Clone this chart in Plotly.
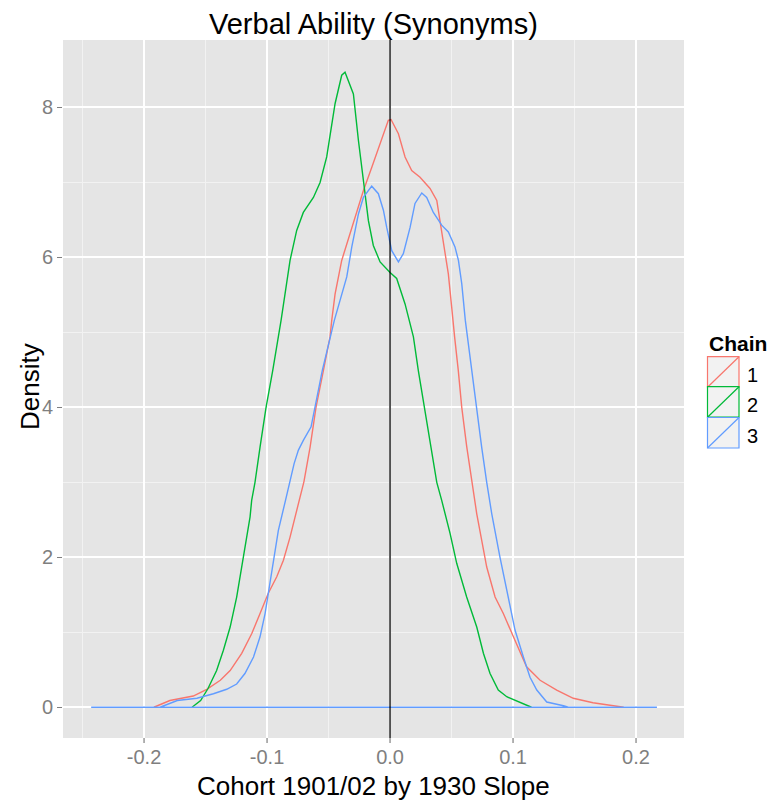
import plotly.graph_objects as go

# ---------------- data ----------------
chain_names = ["1", "2", "3"]
chain_colors = ["#F8766D", "#00BA38", "#619CFF"]

chain1_x = [-0.192, -0.179, -0.160, -0.149, -0.138, -0.130, -0.1206, -0.1125, -0.1057, -0.099,
            -0.0921, -0.0867, -0.0813, -0.0759, -0.0740, -0.0700, -0.0650, -0.0602, -0.0542, -0.0488,
            -0.0474, -0.0447, -0.0393, -0.0352, -0.0285, -0.0217, -0.0149, -0.0081, -0.0014, 0.0008,
            0.0068, 0.0122, 0.0176, 0.0244, 0.0325, 0.0380, 0.0407, 0.0434, 0.0474, 0.0501,
            0.0510, 0.0525, 0.0555, 0.0583, 0.0624, 0.0664, 0.0705, 0.0745, 0.0786, 0.0854,
            0.0921, 0.1003, 0.1110, 0.1220, 0.1355, 0.1490, 0.1650, 0.1900]
chain1_y = [0.0, 0.09, 0.15, 0.24, 0.36, 0.49, 0.72, 0.98, 1.25, 1.52,
            1.74, 1.96, 2.27, 2.62, 2.74, 3.01, 3.47, 4.00, 4.49, 4.94,
            5.16, 5.51, 5.96, 6.18, 6.54, 6.89, 7.20, 7.52, 7.83, 7.84,
            7.65, 7.34, 7.16, 7.07, 6.92, 6.76, 6.49, 6.23, 5.78, 5.34,
            5.16, 4.94, 4.49, 4.00, 3.47, 3.00, 2.58, 2.23, 1.87, 1.47,
            1.25, 0.94, 0.54, 0.36, 0.23, 0.12, 0.06, 0.0]

chain2_x = [-0.161, -0.154, -0.148, -0.141, -0.1355, -0.130, -0.1247, -0.1193, -0.1138, -0.1125,
            -0.1098, -0.1057, -0.1008, -0.0954, -0.0886, -0.0813, -0.0759, -0.0705, -0.0623, -0.0569,
            -0.0515, -0.0447, -0.0393, -0.0366, -0.0298, -0.0257, -0.0217, -0.0176, -0.0136, -0.0081,
            0.0000, 0.0054, 0.0122, 0.0157, 0.0190, 0.0230, 0.0279, 0.0331, 0.0380, 0.0420,
            0.0488, 0.0542, 0.0623, 0.0705, 0.0759, 0.0813, 0.0880, 0.0949, 0.1057, 0.1150]
chain2_y = [0.0, 0.09, 0.25, 0.49, 0.76, 1.07, 1.47, 2.00, 2.54, 2.76,
            3.00, 3.47, 4.00, 4.49, 5.16, 5.96, 6.36, 6.60, 6.80, 7.00,
            7.34, 8.05, 8.43, 8.47, 8.18, 7.56, 7.03, 6.49, 6.16, 5.94,
            5.80, 5.72, 5.38, 5.16, 4.94, 4.49, 4.00, 3.47, 3.00, 2.76,
            2.32, 1.92, 1.47, 1.07, 0.72, 0.45, 0.23, 0.14, 0.07, 0.0]

chain3_x = [-0.243, -0.187, -0.173, -0.157, -0.1436, -0.1328, -0.1247, -0.118, -0.111, -0.1057,
            -0.1016, -0.099, -0.0949, -0.0908, -0.0850, -0.0813, -0.0780, -0.0745, -0.0705, -0.0642,
            -0.0610, -0.0551, -0.0453, -0.0420, -0.0352, -0.0311, -0.0257, -0.0217, -0.0149, -0.0095,
            -0.0054, -0.0027, 0.0014, 0.0068, 0.0108, 0.0163, 0.0203, 0.0258, 0.0298, 0.0352,
            0.0420, 0.0474, 0.0528, 0.0556, 0.0583, 0.0612, 0.0664, 0.0699, 0.0745, 0.0786,
            0.0827, 0.0894, 0.0962, 0.1016, 0.1084, 0.1138, 0.1193, 0.1274, 0.1410, 0.1450,
            0.2170]
chain3_y = [0.0, 0.0, 0.09, 0.12, 0.18, 0.24, 0.31, 0.45, 0.67, 0.94,
            1.25, 1.52, 1.92, 2.36, 2.76, 3.00, 3.25, 3.43, 3.56, 3.74,
            4.00, 4.49, 5.16, 5.34, 5.74, 6.14, 6.58, 6.80, 6.95, 6.85,
            6.63, 6.40, 6.09, 5.94, 6.05, 6.40, 6.72, 6.86, 6.80, 6.60,
            6.43, 6.34, 6.14, 5.96, 5.65, 5.16, 4.49, 4.00, 3.47, 3.00,
            2.58, 2.00, 1.47, 1.03, 0.67, 0.40, 0.23, 0.07, 0.02, 0.0,
            0.0]

x_tickvals = [-0.2, -0.1, 0.0, 0.1, 0.2]
x_ticktext = ["-0.2", "-0.1", "0.0", "0.1", "0.2"]
x_minorvals = [-0.25, -0.15, -0.05, 0.05, 0.15]
y_tickvals = [0, 2, 4, 6, 8]
y_minorvals = [1, 3, 5, 7]
vline_x = 0.0

title_text = "Verbal Ability (Synonyms)"
x_title = "Cohort 1901/02 by 1930 Slope"
y_title = "Density"
legend_title = "Chain"

# ---------------- layout helpers ----------------
W, H = 774, 803
L, R, T, B = 63, 90, 40, 65
PW, PH = W - L - R, H - T - B
FONT = "Liberation Sans, Arial, sans-serif"
TICK_GREY = "#7F7F7F"


def pxx(x):
    return (x - L) / PW


def pxy(y):
    return (H - B - y) / PH


fig = go.Figure()
series = list(zip([chain1_x, chain2_x, chain3_x],
                  [chain1_y, chain2_y, chain3_y],
                  chain_colors, chain_names))
for i, (xs, ys, col, nm) in enumerate(series):
    last = i == len(series) - 1
    # the last chain's outline is closed along the baseline (it covers the others')
    px_ = xs + [xs[0]] if last else xs
    py_ = ys + [ys[0]] if last else ys
    fig.add_trace(go.Scatter(
        x=px_, y=py_, mode="lines",
        line=dict(color=col, width=1.4), name=nm,
        showlegend=False, hoverinfo="skip"))

fig.add_shape(type="line", xref="x", yref="y domain", x0=vline_x, x1=vline_x,
              y0=0, y1=1, line=dict(color="black", width=1.3))

# x-axis tick marks (drawn as short marks below the panel)
for v in x_tickvals:
    fig.add_shape(type="line", xref="x", yref="paper", x0=v, x1=v,
                  y0=0, y1=-5 / PH, line=dict(color=TICK_GREY, width=1.2))

# manual ggplot-like legend
annotations = []
box_tops = [356.7, 386.7, 417.5]
box_h = 30.5
bx0, bx1 = 707.5, 739
for top, col, nm in zip(box_tops, chain_colors, chain_names):
    fig.add_shape(type="rect", xref="paper", yref="paper",
                  x0=pxx(bx0), x1=pxx(bx1), y0=pxy(top + box_h), y1=pxy(top),
                  fillcolor="#F2F2F2", line=dict(color=col, width=1.2), layer="above")
    fig.add_shape(type="line", xref="paper", yref="paper",
                  x0=pxx(bx0), x1=pxx(bx1), y0=pxy(top + box_h), y1=pxy(top),
                  line=dict(color=col, width=1.2), layer="above")
    annotations.append(dict(text=nm, xref="paper", yref="paper", x=pxx(745),
                            y=pxy(top + box_h / 2 + 3), xanchor="left", yanchor="middle",
                            showarrow=False, font=dict(family=FONT, size=20, color="black")))

annotations.append(dict(text="<b>" + legend_title + "</b>", xref="paper", yref="paper",
                        x=pxx(707), y=pxy(343), xanchor="left", yanchor="middle",
                        showarrow=False, font=dict(family=FONT, size=21, color="black")))
annotations.append(dict(text=title_text, xref="paper", yref="paper", x=pxx(373.5), y=pxy(24),
                        xanchor="center", yanchor="middle", showarrow=False,
                        font=dict(family=FONT, size=29, color="black")))
annotations.append(dict(text=x_title, xref="paper", yref="paper", x=pxx(373.5), y=pxy(786),
                        xanchor="center", yanchor="middle", showarrow=False,
                        font=dict(family=FONT, size=26, color="black")))
annotations.append(dict(text=y_title, xref="paper", yref="paper", x=pxx(30), y=pxy(387),
                        xanchor="center", yanchor="middle", showarrow=False, textangle=-90,
                        font=dict(family=FONT, size=26, color="black")))

axis_common = dict(
    showline=False, zeroline=False, tickwidth=1.2,
    tickcolor=TICK_GREY, gridcolor="#FFFFFF", gridwidth=1.6,
    tickfont=dict(family=FONT, size=20, color=TICK_GREY),
)

fig.update_layout(
    width=W, height=H,
    margin=dict(l=L, r=R, t=T, b=B, pad=0),
    paper_bgcolor="white", plot_bgcolor="#E5E5E5",
    showlegend=False,
    annotations=annotations,
    xaxis=dict(range=[-0.2659, 0.239], tickmode="array", tickvals=x_tickvals,
               ticktext=x_ticktext, ticks="", ticklen=0, ticklabelstandoff=5,
               minor=dict(tickmode="array", tickvals=x_minorvals, showgrid=True,
                          gridcolor="#F2F2F2", gridwidth=0.8, ticks=""),
               **axis_common),
    yaxis=dict(range=[-0.41, 8.9], tickmode="array", tickvals=y_tickvals,
               ticktext=[str(v) for v in y_tickvals], ticks="outside", ticklen=5,
               minor=dict(tickmode="array", tickvals=y_minorvals, showgrid=True,
                          gridcolor="#F2F2F2", gridwidth=0.8, ticks=""),
               **axis_common),
)

fig.write_html("out.html")
